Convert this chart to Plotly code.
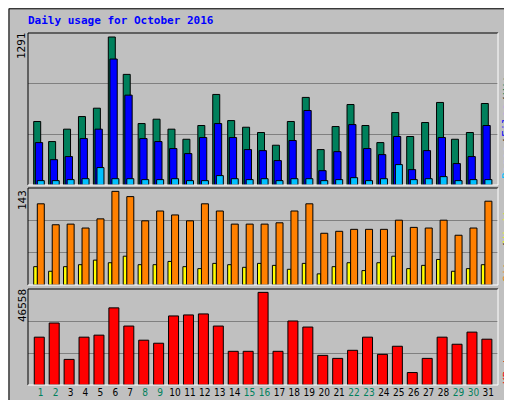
import plotly.graph_objects as go

days = list(range(1, 32))
weekend = [1, 2, 8, 9, 15, 16, 22, 23, 29, 30]
hits_y = [280,340,303,265,240,27,139,286,273,303,333,292,199,277,297,313,351,280,208,364,295,229,292,343,253,325,283,223,333,313,226]
files_y = [343,394,385,331,303,93,201,331,340,361,376,328,286,328,364,367,397,337,247,427,370,289,361,379,325,424,367,328,406,385,292]
pages_y = [457,457,454,451,418,451,451,454,454,451,457,457,442,451,454,451,457,451,451,457,454,448,457,451,409,454,451,445,457,454,454]
visits_y = [63,127,124,136,109,27,42,115,85,97,115,63,85,124,124,124,121,85,63,151,145,139,139,139,112,133,136,112,157,136,57]
sites_y = [250,265,250,244,232,238,220,244,244,235,250,256,241,244,253,241,247,259,241,271,250,238,262,238,220,256,247,229,265,256,244]
kb_y = [460,418,526,460,454,373,427,469,478,397,394,391,427,502,502,327,502,412,430,514,523,499,460,511,487,565,523,460,481,445,466]

hits = [round((470 - v) * 1291 / 443) for v in hits_y]
files = [round((470 - v) * 1291 / 443) for v in files_y]
pages = [round((470 - v) * 1291 / 443) for v in pages_y]
visits = [round((305 - v) * 143 / 278) for v in visits_y]
sites = [round((305 - v) * 143 / 278) for v in sites_y]
kbytes = [round((602 - v) * 46558 / 275) for v in kb_y]

W, H = 512, 400
L, R = 20, 490
def yd(top, bot):
    return [1 - bot / H, 1 - top / H]

fig = go.Figure()
ln = dict(color="black", width=1)
def bar(y, color, off, w, ya):
    fig.add_trace(go.Bar(x=days, y=y, marker=dict(color=color, line=ln), offset=off, width=w,
                         xaxis="x", yaxis=ya, showlegend=False, hoverinfo="skip"))
bar(hits, "#00805c", -0.469, 0.469, "y")
bar(files, "#0000ff", -0.36, 0.49, "y")
bar(pages, "#00c0ff", -0.228, 0.469, "y")
bar(sites, "#ffff00", -0.469, 0.25, "y2")
bar(visits, "#ff8000", -0.228, 0.469, "y2")
bar(kbytes, "#ff0000", -0.43, 0.67, "y3")

ticktext = [f"<span style='color:{'#00805c' if d in weekend else 'black'}'>{d}</span>" for d in days]
xr = [0.149, 31.65]
common = dict(showticklabels=False, ticks="", showline=False, zeroline=False,
              gridcolor="#808080", gridwidth=1)
top1 = 1291 * 455 / 443
top2 = 143 * 288 / 278
top3 = 46558 * 285 / 275
fig.update_layout(
    width=W, height=H, margin=dict(l=0, r=0, t=0, b=0),
    paper_bgcolor="#c0c0c0", plot_bgcolor="#c0c0c0", barmode="overlay",
    font=dict(family="DejaVu Sans Mono", size=11, color="black"),
    xaxis=dict(domain=[L / W, R / W], range=xr, tickmode="array", tickvals=days,
               ticktext=ticktext, showgrid=False, zeroline=False, anchor="y3",
               ticks="", tickangle=0, tickfont=dict(size=10, family="DejaVu Sans Condensed")),
    yaxis=dict(domain=yd(25, 177), range=[0, top1], tickvals=[top1 / 3, 2 * top1 / 3], **common),
    yaxis2=dict(domain=yd(180, 277), range=[0, top2], tickvals=[top2 / 3, 2 * top2 / 3], **common),
    yaxis3=dict(domain=yd(281, 377), range=[0, top3], tickvals=[top3 / 3, 2 * top3 / 3], **common),
)
shapes = [dict(type="rect", xref="paper", yref="paper", x0=0.002, x1=0.998, y0=0.002, y1=0.998,
               line=dict(color="black", width=1))]
for t, b in [(25, 177), (180, 277), (281, 377)]:
    y0, y1 = 1 - b / H, 1 - t / H
    shapes.append(dict(type="line", xref="paper", yref="paper", x0=L / W, x1=L / W, y0=y0, y1=y1, line=dict(color="black", width=1)))
    shapes.append(dict(type="line", xref="paper", yref="paper", x0=L / W, x1=R / W, y0=y1, y1=y1, line=dict(color="black", width=1)))
    shapes.append(dict(type="line", xref="paper", yref="paper", x0=R / W, x1=R / W, y0=y0, y1=y1, line=dict(color="white", width=1)))
    shapes.append(dict(type="line", xref="paper", yref="paper", x0=L / W, x1=R / W, y0=y0, y1=y0, line=dict(color="white", width=1)))
fig.update_layout(shapes=shapes)

def ann(text, x, y, angle=0, anchor="left", color="black", size=11):
    fig.add_annotation(text=text, x=x / W, y=1 - y / H, xref="paper", yref="paper", showarrow=False,
                       textangle=angle, xanchor=anchor, yanchor="middle", font=dict(size=size, color=color))
ann("<b>Daily usage for October 2016</b>", 18, 12, color="#0000ff", size=11)
ann("1291", 14, 38, angle=-90, anchor="center")
ann("143", 14, 192, angle=-90, anchor="center")
ann("46558", 14, 298, angle=-90, anchor="center")
# right-side rotated labels, one word per annotation (bottom to top)
ann("Pages", 499, 155, angle=-90, anchor="center", color="#00c0ff")
ann("/", 499, 134, angle=-90, anchor="center")
ann("Files", 499, 113, angle=-90, anchor="center", color="#0000ff")
ann("/", 499, 92, angle=-90, anchor="center")
ann("Hits", 499, 74, angle=-90, anchor="center", color="#00805c")
ann("Sites", 499, 258, angle=-90, anchor="center", color="#ff8000")
ann("/", 499, 238, angle=-90, anchor="center")
ann("Visits", 499, 215, angle=-90, anchor="center", color="#ffff00")
ann("KBytes", 499, 356, angle=-90, anchor="center", color="#ff0000")
fig.write_html("out.html")
